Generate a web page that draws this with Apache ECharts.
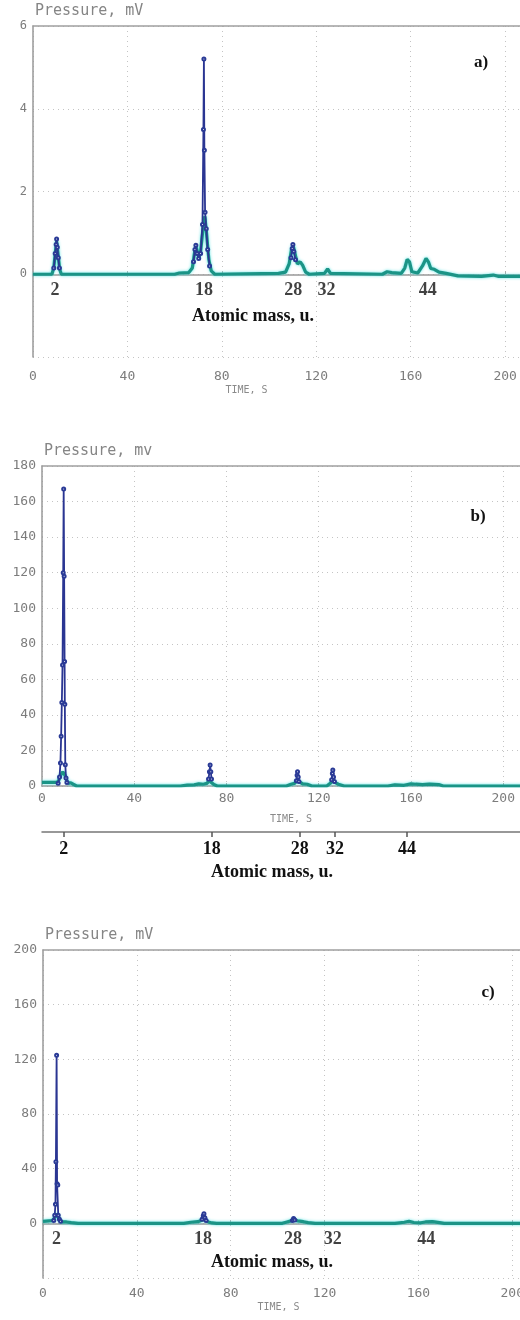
<!DOCTYPE html>
<html><head><meta charset="utf-8">
<script src="https://cdn.jsdelivr.net/npm/echarts@6/dist/echarts.min.js"></script>
<style>html,body{margin:0;padding:0;background:#fff}#c{width:520px;height:1320px}</style>
</head><body><div id="c"></div>
<script>
// ---- data (time in s, pressure in mV) ----
const tealA = [[0,0],[8,0],[8.8,0.15],[9.4,0.5],[10,0.8],[10.6,0.5],[11.3,0.12],[12,0],[60,0],[62,0.03],[66,0.04],[67.5,0.15],[68.5,0.55],[69,0.68],[69.6,0.55],[70.3,0.4],[71,0.55],[72,1.1],[72.8,1.4],[73.5,1.0],[74.5,0.35],[75.5,0.08],[77,0],[104,0.02],[107,0.05],[108.5,0.25],[109.5,0.6],[110.2,0.7],[111,0.5],[112,0.25],[113.2,0.3],[114.2,0.22],[115.5,0.05],[117,0],[123.5,0.02],[124.8,0.13],[126,0.02],[148,0],[150,0.06],[152,0.04],[156,0.02],[157.5,0.15],[158.5,0.36],[159.5,0.3],[160.5,0.06],[163,0.03],[165,0.2],[166.5,0.38],[167.5,0.3],[168.5,0.14],[170,0.12],[172,0.05],[175,0.02],[180,-0.04],[190,-0.05],[195,-0.02],[197,-0.05],[208,-0.05]];
const blueA = [[8.8,0.15],[9.4,0.5],[9.8,0.72],[10,0.85],[10.3,0.65],[10.7,0.4],[11.2,0.15],null,[68,0.3],[68.6,0.6],[69,0.7],[69.5,0.5],[70.2,0.38],[71,0.5],[71.8,1.2],[72.2,3.5],[72.4,5.2],[72.6,3.0],[72.9,1.5],[73.4,1.1],[74,0.6],[74.8,0.2],null,[109.3,0.4],[109.8,0.62],[110.1,0.72],[110.5,0.55],[111.2,0.35]];

const tealB = [[0,2],[6,2],[7,2.5],[7.5,4],[8,6],[9,8],[10,6],[10.8,3],[11.5,1.5],[12.5,1.8],[13.5,1],[15,0],[60,0],[63,0.5],[66,0.6],[68,1.2],[70,1.0],[71.5,1.5],[72.5,3],[73.3,2.5],[74.5,0.8],[76,0],[106,0],[108,1.0],[109.5,1.5],[110.5,3],[111.5,2.5],[113,1.2],[115,1],[117,0],[123.5,0],[125,1.5],[126,3],[127,2],[128.5,1],[131,0],[150,0],[153,0.6],[157,0.4],[160,1.2],[162,1],[165,0.8],[168,1],[172,0.8],[174,0],[209,0]];
const blueB = [[7,1.5],[7.6,5],[8,13],[8.3,28],[8.6,47],[8.9,68],[9.2,120],[9.4,167],[9.6,118],[9.8,70],[9.9,46],[10.1,12],[10.4,4.5],[10.8,2],null,[72.2,4],[72.6,8],[72.9,11.8],[73.2,8],[73.5,4],null,[110.3,3],[110.6,6],[110.8,8],[111.1,5],[111.4,2.5],null,[125.6,3.5],[125.9,7],[126.1,9],[126.4,5],[126.8,2.5]];

const tealC = [[0,1.5],[4,2],[4.8,3],[5.3,5],[5.8,7],[6.5,5],[7,2],[8,1],[10,1],[12,0.5],[15,0],[60,0],[63,0.8],[66,1.2],[68,2.5],[69,2.8],[70.5,1],[72,0.3],[74,0],[102,0],[104,1],[106,2],[107,2.5],[108.5,1.8],[111,1.2],[113,0.5],[116,0],[150,0],[154,0.8],[156,1.5],[158,0.6],[161,0.4],[163,1.0],[166,1.2],[169,0.5],[171,0],[205,0]];
const blueC = [[4.6,2],[5,6],[5.3,14],[5.5,45],[5.8,123],[6.0,29],[6.3,28],[6.5,6],[7,3],[7.5,1.5],null,[67.8,3],[68.3,5.5],[68.6,7],[69,4],[69.5,2],null,[106.3,2],[106.8,3.5],[107.3,2.5]];

// atomic-mass markers (mass label, time where it sits)
const massLabels = ['2','18','28','32','44'];
const massTimesA = [9.3,72.4,110.3,124.3,167.2];
const massTimesB = [9.4,73.6,111.8,127,158.3];
const massTimesC = [5.8,68.2,106.5,123.5,163.3];

const panelTags = ['a)','b)','c)'];
const yTitles = ['Pressure, mV','Pressure, mv','Pressure, mV'];

// ---- styling helpers ----
const GRAY = '#7c7c7c';
const MONO = "'DejaVu Sans Mono', monospace";
const SERIF = "'Liberation Serif', 'DejaVu Serif', serif";
const fix = arr => arr.map(p => p === null ? ['-','-'] : p);

function xMain(grid, max, labelMargin, nameGap, namePad) {
  return {
    type:'value', gridIndex:grid, min:0, max:max, interval:40,
    axisLine:{show:true, lineStyle:{color:'#999', width:1.5}},
    axisTick:{show:true, inside:true, length:3, lineStyle:{color:'#aaa'}},
    axisLabel:{color:GRAY, fontFamily:MONO, fontSize:13, margin:labelMargin,
      formatter:v => (v % 40 === 0 ? String(v) : '')},
    splitLine:{show:true, lineStyle:{color:'#c4c4c4', type:[1,4], width:1}},
    name:'TIME, S', nameLocation:'middle', nameGap:nameGap,
    nameTextStyle:{color:'#8a8a8a', fontFamily:MONO, fontSize:10, padding:namePad}
  };
}
function xTop(grid, max) {
  return {type:'value', gridIndex:grid, position:'top', min:0, max:max,
    axisLine:{show:true, lineStyle:{color:'#a0a0a0', width:1.5}},
    axisTick:{show:false}, axisLabel:{show:false}, splitLine:{show:false}};
}
function yAx(grid, min, max, interval, title, fs) {
  return {
    type:'value', gridIndex:grid, min:min, max:max, interval:interval,
    axisLine:{show:true, lineStyle:{color:'#999', width:1.5}},
    axisTick:{show:false},
    axisLabel:{color:GRAY, fontFamily:MONO, fontSize:fs, margin:6,
      formatter:v => (v < 0 ? '' : String(v))},
    splitLine:{show:true, lineStyle:{color:'#c4c4c4', type:[1,4], width:1}},
    name:title, nameLocation:'end', nameGap:7,
    nameTextStyle:{color:'#858585', fontFamily:MONO, fontSize:15, align:'left', padding:[0,0,0,2]}
  };
}
function teal(i, data) {
  return {type:'line', xAxisIndex:[0,2,5][i], yAxisIndex:i, data:data, symbol:'none',
    lineStyle:{color:'#1b9486', width:3.2, shadowColor:'rgba(70,225,225,0.9)', shadowBlur:3},
    z:2, animation:false};
}
function blue(i, data) {
  return {type:'line', xAxisIndex:[0,2,5][i], yAxisIndex:i, data:fix(data), connectNulls:false,
    symbol:'emptyCircle', symbolSize:3, showAllSymbol:true,
    itemStyle:{color:'#2a3a96', borderColor:'#3a4aa6', borderWidth:1},
    lineStyle:{color:'#2a3592', width:1.8}, z:3, animation:false};
}
function massSeries(i, times) {
  return {type:'scatter', xAxisIndex:[0,2,5][i], yAxisIndex:i,
    data:times.map((t,k)=>({value:[t,0], name:massLabels[k]})),
    symbolSize:1, itemStyle:{color:'rgba(0,0,0,0)'},
    label:{show:true, position:'bottom', distance:7, formatter:p=>p.name,
      fontFamily:SERIF, fontWeight:'bold', fontSize:18, color:'#111'},
    silent:true, z:4, animation:false};
}
const serifText = (x,y,txt,fs) => ({type:'text', x:x, y:y,
  style:{text:txt, fontFamily:SERIF, fontWeight:'bold', fontSize:fs, fill:'#111', align:'center', verticalAlign:'middle'}});

const option = {
  animation:false,
  grid:[
    {left:33, top:26, width:491, height:331, outerBoundsMode:'none', containLabel:false},
    {left:42, top:466, width:482, height:320, outerBoundsMode:'none', containLabel:false},
    {left:43, top:950, width:481, height:328, outerBoundsMode:'none', containLabel:false}
  ],
  xAxis:[
    xMain(0, 208, 13, 28, [0,64,0,0]),
    xTop(0, 208),
    xMain(1, 209, 6, 28, [0,0,0,16]),
    xTop(1, 209),
    { type:'value', gridIndex:1, position:'bottom', offset:46, min:0, max:209,
      axisLine:{show:true, lineStyle:{color:'#777', width:1.5}},
      axisTick:{show:true, length:5, customValues:massTimesB, lineStyle:{color:'#555', width:1.5}},
      axisLabel:{show:true, customValues:massTimesB, margin:8, fontFamily:SERIF, fontWeight:'bold', fontSize:18, color:'#111',
        formatter:v => { const k = massTimesB.indexOf(v); return k >= 0 ? massLabels[k] : ''; }},
      splitLine:{show:false},
      name:'Atomic mass, u.', nameLocation:'middle', nameGap:31,
      nameTextStyle:{fontFamily:SERIF, fontWeight:'bold', fontSize:18, color:'#111', padding:[0,22,0,0]}
    },
    xMain(2, 205, 9, 24, [0,10,0,0]),
    xTop(2, 205)
  ],
  yAxis:[
    yAx(0, -2, 6, 2, yTitles[0], 12),
    yAx(1, 0, 180, 20, yTitles[1], 13),
    yAx(2, -40, 200, 40, yTitles[2], 13)
  ],
  graphic:[
    serifText(481, 63, panelTags[0], 17),
    serifText(478, 517, panelTags[1], 17),
    serifText(488, 993, panelTags[2], 17),
    serifText(253, 316, 'Atomic mass, u.', 18),
    serifText(272, 1262, 'Atomic mass, u.', 18)
  ],
  series:[
    teal(0, tealA), blue(0, blueA), massSeries(0, massTimesA),
    teal(1, tealB), blue(1, blueB),
    teal(2, tealC), blue(2, blueC), massSeries(2, massTimesC)
  ]
};
echarts.init(document.getElementById('c'), null, {renderer:'canvas'}).setOption(option);
</script></body></html>
